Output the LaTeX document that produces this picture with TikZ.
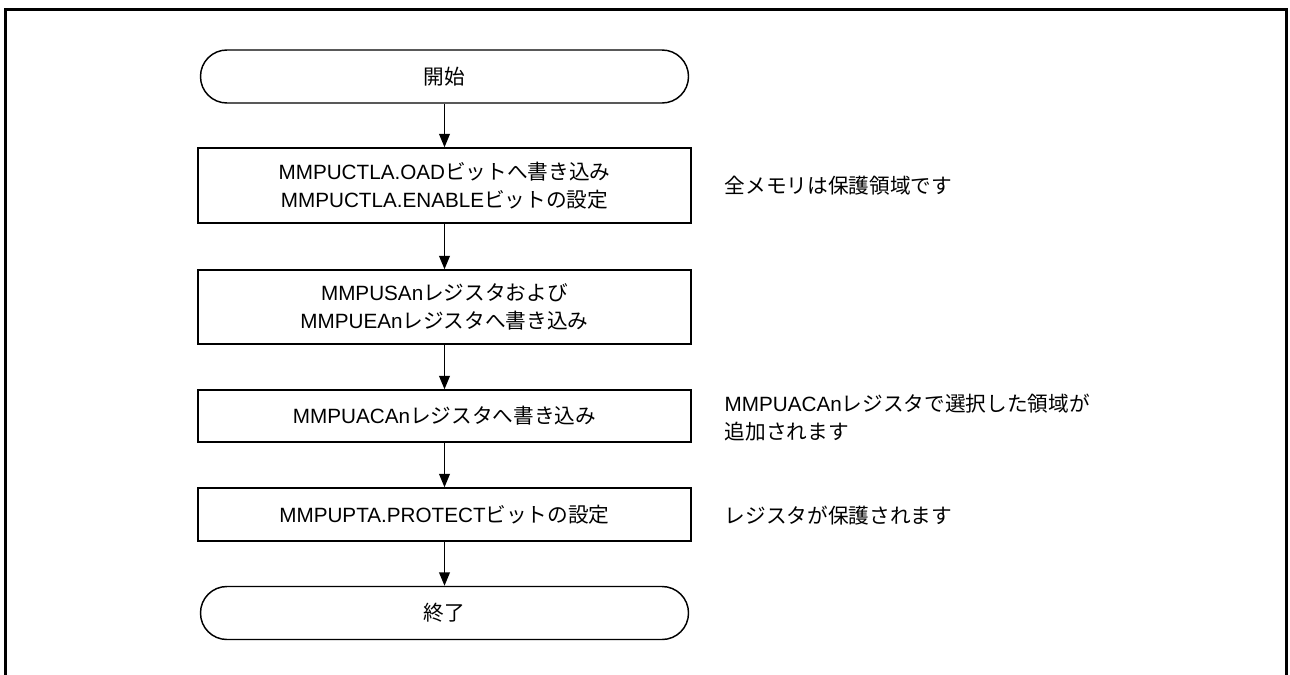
\documentclass[tikz,border=0pt]{standalone}
\usepackage{fontspec}
\setmainfont{Liberation Sans}
\newfontfamily\jp{Noto Sans CJK JP}
\usetikzlibrary{arrows.meta, positioning}

\begin{document}
\begin{tikzpicture}[x=0.75pt, y=-0.75pt,
    every node/.style={font=\fontsize{15.5}{21}\selectfont},
    term/.style={draw, line width=1.1pt, rounded corners=19.8pt, minimum width=366pt, minimum height=39.75pt},
    proc/.style={draw, line width=1.1pt, minimum width=369.75pt, align=center},
    note/.style={anchor=west, align=left},
    flow/.style={line width=1.1pt, -{Triangle[length=10pt, width=8pt]}}]
    \useasboundingbox (0,0) rectangle (1290,675);

    % Outer frame (open at the bottom)
    \draw[line width=2.25pt] (5,675) -- (5,9.5) -- (1286.5,9.5) -- (1286.5,675);

    % Start
    \node[term] (start) at (444.5,76.5) {{\jp 開始}};

    % Steps
    \node[proc, minimum height=56.25pt] (oad) at (444.5,185.5)
        {MMPUCTLA.OAD{\jp ビットへ書き込み}\\MMPUCTLA.ENABLE{\jp ビットの設定}};
    \node[proc, minimum height=55.5pt] (sean) at (444.5,307)
        {MMPUSAn{\jp レジスタおよび}\\MMPUEAn{\jp レジスタへ書き込み}};
    \node[proc, minimum height=39pt] (acan) at (444.5,416)
        {MMPUACAn{\jp レジスタへ書き込み}};
    \node[proc, minimum height=39.75pt] (pta) at (444.5,514.5)
        {MMPUPTA.PROTECT{\jp ビットの設定}};

    % End
    \node[term] (stop) at (444.5,613) {{\jp 終了}};

    % Flow
    \draw[flow] (start) -- (oad);
    \draw[flow] (oad) -- (sean);
    \draw[flow] (sean) -- (acan);
    \draw[flow] (acan) -- (pta);
    \draw[flow] (pta) -- (stop);

    % Notes
    \node[note] (noteoad) at (720,185.5) {{\jp 全メモリは保護領域です}};
    \node[note] (noteacan) at (720,417.5)
        {MMPUACAn{\jp レジスタで選択した領域が}\\{\jp 追加されます}};
    \node[note] (notepta) at (720,516) {{\jp レジスタが保護されます}};
\end{tikzpicture}
\end{document}
